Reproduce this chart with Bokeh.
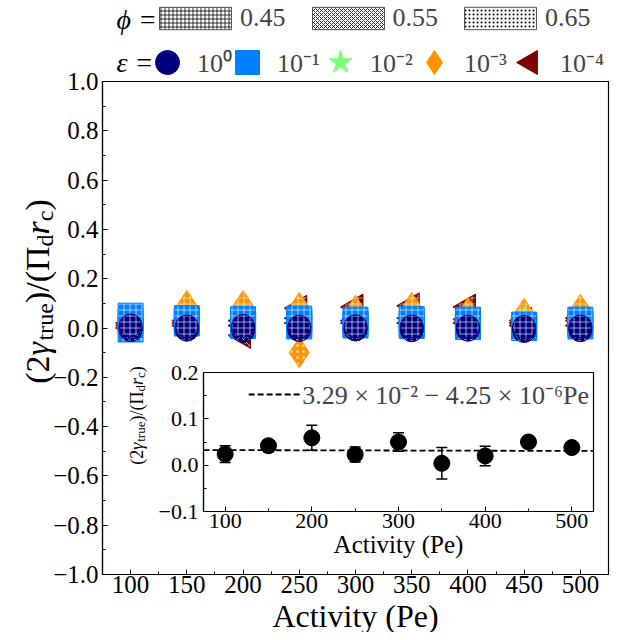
import math
from bokeh.plotting import figure
from bokeh.models import (Range1d, FixedTicker, Legend, LegendItem, Label,
                          ColumnDataSource, Whisker, TeeHead)
from bokeh.layouts import column
from bokeh.embed import file_html
from bokeh.resources import INLINE

FONT = "Liberation Serif"
NAN = float("nan")

# ---------------- data ----------------
pe = [100, 150, 200, 250, 300, 350, 400, 450, 500]

phi_labels = ["0.45", "0.55", "0.65"]
phi_hatches = ["+", "x", "."]

eps_labels = ["10⁰", "10⁻¹", "10⁻²", "10⁻³", "10⁻⁴"]
eps_colors = ["#00007f", "#0080ff", "#7dff7a", "#ff9400", "#7f0000"]
eps_markers = ["circle", "square", "star", "diamond", "triangle"]
eps_sizes = [23, 25, 28, 30, 26]
eps_angles = [0, 0, 0, 0, math.pi / 2]

# eps = 1e0 (circles)
g_e0_045 = [0.010, 0.006, 0.008, 0.005, 0.007, 0.006, 0.005, 0.004, 0.006]
g_e0_055 = [0.001, 0.000, -0.004, 0.002, -0.002, 0.000, 0.002, -0.004, 0.000]
g_e0_065 = [-0.008, -0.007, -0.011, -0.008, -0.006, -0.009, -0.007, -0.012, -0.009]
# eps = 1e-1 (squares)
g_e1_045 = [0.050, 0.040, 0.036, 0.038, 0.034, 0.036, 0.034, 0.014, 0.034]
g_e1_055 = [0.025, 0.028, 0.020, 0.024, 0.018, 0.020, 0.022, 0.008, 0.020]
g_e1_065 = [-0.006, 0.018, 0.008, 0.006, 0.010, 0.008, 0.004, 0.000, 0.006]
# eps = 1e-2 (stars)
g_e2_045 = [0.030, 0.034, 0.040, 0.036, 0.034, 0.040, 0.036, 0.030, 0.034]
g_e2_055 = [0.020, 0.026, 0.028, 0.026, 0.024, 0.030, 0.026, 0.020, 0.024]
g_e2_065 = [0.010, 0.018, 0.016, 0.016, 0.014, 0.018, 0.016, 0.012, 0.014]
# eps = 1e-3 (diamonds)
g_e3_045 = [0.035, 0.091, 0.091, 0.083, 0.071, 0.083, 0.063, 0.059, 0.075]
g_e3_055 = [0.020, 0.060, 0.071, 0.060, 0.050, 0.055, 0.045, 0.040, 0.050]
g_e3_065 = [0.010, 0.035, 0.040, -0.100, 0.030, 0.030, 0.025, 0.025, 0.030]
# eps = 1e-4 (left triangles)
g_e4_045 = [0.020, 0.030, 0.030, 0.080, 0.085, 0.090, 0.085, 0.030, 0.040]
g_e4_055 = [0.010, 0.020, -0.030, 0.040, 0.030, 0.040, 0.035, 0.020, 0.030]
g_e4_065 = [0.000, 0.010, 0.010, 0.020, 0.020, 0.020, 0.020, 0.010, 0.010]

main_series = [
    [g_e0_045, g_e0_055, g_e0_065],
    [g_e1_045, g_e1_055, g_e1_065],
    [g_e2_045, g_e2_055, g_e2_065],
    [g_e3_045, g_e3_055, g_e3_065],
    [g_e4_045, g_e4_055, g_e4_065],
]

# inset: averaged values with error bars
inset_mean = [0.024, 0.042, 0.059, 0.023, 0.050, 0.004, 0.020, 0.050, 0.038]
inset_err = [0.018, 0.013, 0.027, 0.016, 0.020, 0.034, 0.021, 0.004, 0.008]
fit_intercept = 3.29e-2
fit_slope = -4.25e-6
fit_label = "3.29 × 10⁻² − 4.25 × 10⁻⁶Pe"

# ticks
x_ticks_main = [100, 150, 200, 250, 300, 350, 400, 450, 500]
x_minor_main = [125, 175, 225, 275, 325, 375, 425, 475]
y_ticks_main = [-1.0, -0.8, -0.6, -0.4, -0.2, 0.0, 0.2, 0.4, 0.6, 0.8, 1.0]
y_labels_main = ["−1.0", "−0.8", "−0.6", "−0.4", "−0.2", "0.0", "0.2", "0.4", "0.6", "0.8", "1.0"]
y_minor_main = [-0.9, -0.7, -0.5, -0.3, -0.1, 0.1, 0.3, 0.5, 0.7, 0.9]
x_ticks_in = [100, 200, 300, 400, 500]
x_minor_in = [150, 250, 350, 450]
y_ticks_in = [-0.1, 0.0, 0.1, 0.2]
y_labels_in = ["−0.1", "0.0", "0.1", "0.2"]
y_minor_in = [-0.05, 0.05, 0.15]

x_title = "Activity (Pe)"
y_title_parts = [("(2", "n"), ("γ", "i"), ("true", "s"), (")/(Π", "n"),
                 ("d", "s"), ("r", "i"), ("c", "s"), (")", "n")]

W, H = 628, 632


def no_align(fig):
    try:
        fig.frame_align = False
    except Exception:
        pass


def style_axes(fig, tick_size):
    fig.xgrid.visible = False
    fig.ygrid.visible = False
    fig.outline_line_color = "black"
    fig.outline_line_width = 1.2
    for ax in (fig.xaxis[0], fig.yaxis[0]):
        ax.axis_line_color = "black"
        ax.axis_line_width = 1.2
        ax.major_tick_in = 5
        ax.major_tick_out = 0
        ax.minor_tick_in = 3
        ax.minor_tick_out = 0
        ax.major_tick_line_color = "black"
        ax.minor_tick_line_color = "black"
        ax.major_label_text_font = FONT
        ax.major_label_text_font_size = tick_size
        ax.major_label_text_color = "black"
        ax.axis_label_text_font = FONT
        ax.axis_label_text_font_style = "normal"
        ax.axis_label_text_color = "black"


# ---------------- main figure ----------------
p = figure(width=W, height=H, x_range=Range1d(75, 525), y_range=Range1d(-1, 1),
           output_backend="svg", toolbar_location=None,
           min_border_left=102, min_border_right=20, min_border_top=81, min_border_bottom=58)
no_align(p)
p.background_fill_color = "white"
p.border_fill_color = "white"
style_axes(p, "25px")
p.xaxis.ticker = FixedTicker(ticks=x_ticks_main, minor_ticks=x_minor_main)
p.yaxis.ticker = FixedTicker(ticks=y_ticks_main, minor_ticks=y_minor_main)
p.yaxis.major_label_overrides = {t: l for t, l in zip(y_ticks_main, y_labels_main)}
p.xaxis.major_label_standoff = 1
p.yaxis.major_label_standoff = 4

# markers: drawn from 1e-4 up to 1e0 so circles end on top
for ei in reversed(range(len(eps_labels))):
    for pi_ in reversed(range(len(phi_hatches))):
        p.scatter(x=pe, y=main_series[ei][pi_], marker=eps_markers[ei], size=eps_sizes[ei],
                  angle=eps_angles[ei], fill_color=eps_colors[ei], line_color=eps_colors[ei],
                  line_width=1, hatch_pattern=phi_hatches[pi_], hatch_color="white",
                  hatch_alpha=0.6, hatch_scale=6, hatch_weight=1)

# ---------------- inset ----------------
q = figure(width=W, height=209, x_range=Range1d(75, 525), y_range=Range1d(-0.1, 0.2),
           output_backend="svg", toolbar_location=None,
           min_border_left=203, min_border_right=35, min_border_top=14, min_border_bottom=56)
no_align(q)
q.border_fill_alpha = 0
q.background_fill_color = "white"
q.margin = (358 - H, 0, 0, 0)
style_axes(q, "22px")
q.xaxis.ticker = FixedTicker(ticks=x_ticks_in, minor_ticks=x_minor_in)
q.yaxis.ticker = FixedTicker(ticks=y_ticks_in, minor_ticks=y_minor_in)
q.yaxis.major_label_overrides = {t: l for t, l in zip(y_ticks_in, y_labels_in)}
q.xaxis.axis_label = x_title
q.xaxis.axis_label_text_font_size = "25px"
q.xaxis.axis_label_standoff = 0
q.xaxis.major_label_standoff = 2
q.yaxis.major_label_standoff = 5

fit_x = [75, 525]
fit_y = [fit_intercept + fit_slope * xx for xx in fit_x]
fit_r = q.line(fit_x, fit_y, line_color="black", line_width=1.8, line_dash="6 3")

src = ColumnDataSource(dict(x=pe, y=inset_mean,
                            upper=[m + e for m, e in zip(inset_mean, inset_err)],
                            lower=[m - e for m, e in zip(inset_mean, inset_err)]))
wh = Whisker(source=src, base="x", upper="upper", lower="lower", line_color="black",
             line_width=1.5,
             upper_head=TeeHead(size=11, line_color="black", line_width=1.5),
             lower_head=TeeHead(size=11, line_color="black", line_width=1.5))
wh.level = "underlay"
q.add_layout(wh)
q.scatter("x", "y", source=src, marker="circle", size=16, fill_color="black",
          line_color="black")

leg_in = Legend(items=[LegendItem(label=fit_label, renderers=[fit_r])], location="top_right",
                glyph_width=52, glyph_height=26, label_height=26, label_standoff=2,
                padding=4, margin=0, label_text_font=FONT, label_text_font_size="26px",
                background_fill_alpha=0, border_line_alpha=0)
q.add_layout(leg_in)

# ---------------- overlay for titles and the top legends ----------------
ov = figure(width=W, height=H, x_range=Range1d(0, W), y_range=Range1d(0, H),
            x_axis_type=None, y_axis_type=None, output_backend="svg", toolbar_location=None,
            min_border_left=0, min_border_right=0, min_border_top=0, min_border_bottom=0)
no_align(ov)
ov.outline_line_color = None
ov.background_fill_alpha = 0
ov.border_fill_alpha = 0
ov.xgrid.visible = False
ov.ygrid.visible = False
ov.margin = (-(358 + 209), 0, 0, 0)


def img_label(text, px, py, size, style="normal", angle=0.0, align="left", baseline="alphabetic"):
    ov.add_layout(Label(x=px, y=H - py, text=text,
                        text_font=FONT, text_font_size=f"{size}px", text_font_style=style,
                        text_color="black", angle=angle, text_align=align,
                        text_baseline=baseline))


EM_N = {"(": .333, ")": .333, "2": .5, "/": .278, "Π": .722, "t": .278, "r": .333,
        "u": .5, "e": .444, "d": .5, "c": .444}
EM_I = {"γ": .44, "r": .389}


def rotated_rich_label(parts, base_px, center_py, size):
    sub = round(size * 0.7)
    widths = []
    for t, k in parts:
        table = EM_I if k == "i" else EM_N
        fs = sub if k == "s" else size
        widths.append(sum(table.get(ch, .5) for ch in t) * fs)
    py = center_py + sum(widths) / 2
    for (t, k), w in zip(parts, widths):
        fs = sub if k == "s" else size
        px = base_px + (0.21 * size if k == "s" else 0)
        img_label(t, px, py, fs, style="italic" if k == "i" else "normal", angle=math.pi / 2)
        py -= w


rotated_rich_label(y_title_parts, 37, 291, 34)
img_label(x_title, 355, 615, 32, align="center")
rotated_rich_label(y_title_parts, 136.5, 415, 18)

# phi legend (hatch patterns)
phi_items = []
for lab, pat in zip(phi_labels, phi_hatches):
    r = ov.rect(x=[NAN], y=[NAN], width=1, height=1, fill_color="white", line_color="#555555",
                line_width=1, hatch_pattern=pat, hatch_color="black", hatch_scale=4,
                hatch_weight=0.8)
    phi_items.append(LegendItem(label=lab, renderers=[r]))
leg_phi = Legend(items=phi_items, orientation="horizontal", location=(150, H - 33),
                 glyph_width=90, glyph_height=28, label_height=28, label_standoff=0,
                 label_width=44, spacing=17, padding=0, margin=0,
                 label_text_font=FONT, label_text_font_size="26px",
                 background_fill_alpha=0, border_line_alpha=0)
ov.add_layout(leg_phi)

# eps legend: one single-item legend per marker so each key sits where it should
eps_leg_x = [137, 217, 310, 404, 500]
for lab, m, c, a, lx in zip(eps_labels, eps_markers, eps_colors, eps_angles, eps_leg_x):
    if a == 0:
        r = ov.scatter(x=[NAN], y=[NAN], marker=m, fill_color=c, line_color=c, size=24)
    else:
        # Bokeh never rotates legend keys: leave this key blank, draw the rotated marker on it
        r = ov.scatter(x=[NAN], y=[NAN], marker=m, fill_alpha=0, line_alpha=0, size=24)
        ov.scatter(x=[lx + 30], y=[H - 62], marker=m, angle=a, size=24,
                   fill_color=c, line_color=c)
    ov.add_layout(Legend(items=[LegendItem(label=lab, renderers=[r])],
                         orientation="horizontal", location=(lx, H - 92),
                         glyph_width=60, glyph_height=60, label_standoff=0,
                         padding=0, margin=0, label_text_font=FONT,
                         label_text_font_size="26px",
                         background_fill_alpha=0, border_line_alpha=0))

img_label("ϕ =", 116, 19, 28, style="italic", baseline="middle")
img_label("ε =", 116, 62, 28, style="italic", baseline="middle")

layout = column(p, q, ov)
open("out.html", "w").write(file_html(layout, INLINE))
